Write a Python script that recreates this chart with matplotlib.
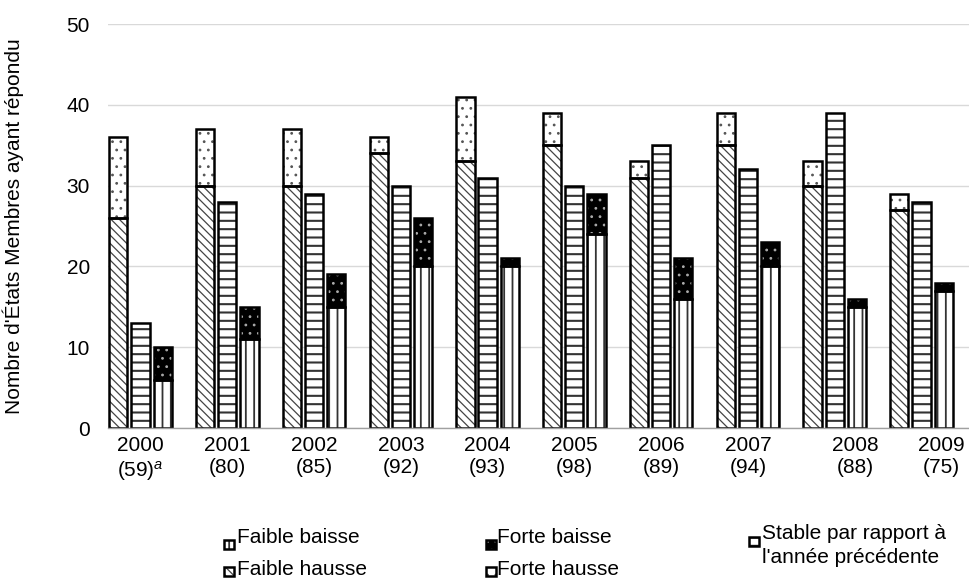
import matplotlib
matplotlib.use('Agg')
import matplotlib.pyplot as plt
import numpy as np
from matplotlib.patches import Rectangle

plt.rcParams['font.family'] = ['Liberation Sans', 'DejaVu Sans']
plt.rcParams['mathtext.fontset'] = 'custom'
plt.rcParams['mathtext.it'] = 'Liberation Sans:italic'
plt.rcParams['mathtext.rm'] = 'Liberation Sans'
plt.rcParams['hatch.linewidth'] = 1.3

# ---- data ----
years = ['2000', '2001', '2002', '2003', '2004', '2005', '2006', '2007', '2008', '2009']
respondents = ['(59)$^{a}$', '(80)', '(85)', '(92)', '(93)', '(98)', '(89)', '(94)', '(88)', '(75)']
faible_hausse = [26, 30, 30, 34, 33, 35, 31, 35, 30, 27]
forte_hausse = [10, 7, 7, 2, 8, 4, 2, 4, 3, 2]
stable = [13, 28, 29, 30, 31, 30, 35, 32, 39, 28]
faible_baisse = [6, 11, 15, 20, 20, 24, 16, 20, 15, 17]
forte_baisse = [4, 4, 4, 6, 1, 5, 5, 3, 1, 1]
y_ticks = [0, 10, 20, 30, 40, 50]

# label placement (style)
label_shift = [0, 0, 0, 0, 0, 0, 0, 0, 0.24, 0.23]

FS = 15
W, H = 970, 582
fig = plt.figure(figsize=(W / 100, H / 100), dpi=100)
ax = fig.add_axes([108 / W, 154 / H, 861 / W, 404 / H])

x = np.arange(len(years))
step = 0.256
bw = 0.21
lw = 1.8
hcol = '#333333'

# hatch styles: (face, hatch, hatch colour, hatch linewidth)
ST_FH = ('white', '\\\\\\\\', '#444444', 0.9)
ST_FOH = ('white', '..', '#555555', 0.8)
ST_ST = ('white', '--', '#333333', 1.5)
ST_FB = ('white', '||', '#333333', 1.3)
ST_FOB = ('black', '..', '#aaaaaa', 0.8)

def draw(xpos, vals, bottom, st):
    face, hatch, hc, hlw = st
    with plt.rc_context({'hatch.linewidth': hlw}):
        ax.bar(xpos, vals, bw, bottom=bottom, color=face, hatch=hatch,
               edgecolor=hc, linewidth=0, zorder=2)
    ax.bar(xpos, vals, bw, bottom=bottom, fill=False, edgecolor='black',
           linewidth=lw, zorder=3)

fh = np.array(faible_hausse)
fb = np.array(faible_baisse)
draw(x - step, fh, 0, ST_FH)
draw(x - step, forte_hausse, fh, ST_FOH)
draw(x, stable, 0, ST_ST)
draw(x + step, fb, 0, ST_FB)
draw(x + step, forte_baisse, fb, ST_FOB)

ax.set_xlim(-0.375, 9.548)
ax.set_ylim(0, 50)
ax.set_yticks(y_ticks)
ax.yaxis.grid(True, color='#d9d9d9', linewidth=1)
ax.set_axisbelow(True)
for s in ['left', 'right', 'top']:
    ax.spines[s].set_visible(False)
ax.spines['bottom'].set_color('#a0a0a0')
ax.spines['bottom'].set_linewidth(1)
ax.spines['bottom'].set_zorder(4)

ax.tick_params(axis='y', length=0, pad=13, labelsize=FS)
ax.tick_params(axis='x', length=0, pad=6, labelsize=FS)
ax.set_xticks(x + np.array(label_shift),
              [f'{y}\n{r}' for y, r in zip(years, respondents)])

fig.text(13 / W, 1 - 226 / H, "Nombre d'États Membres ayant répondu",
         rotation=90, ha='center', va='center', fontsize=FS)

# ---- legend (manual) ----
def handle(px, py, st):
    face, hatch, hc, hlw = st
    with plt.rc_context({'hatch.linewidth': hlw}):
        r = Rectangle((px / W, 1 - (py + 9) / H), 10 / W, 9 / H, transform=fig.transFigure,
                      facecolor=face, hatch=hatch, edgecolor=hc, linewidth=0)
    fig.add_artist(r)
    r2 = Rectangle((px / W, 1 - (py + 9) / H), 10 / W, 9 / H, transform=fig.transFigure,
                   fill=False, edgecolor='black', linewidth=1.8)
    fig.add_artist(r2)

def ltext(px, py, s):
    fig.text(px / W, 1 - py / H, s, ha='left', va='baseline', fontsize=FS)

handle(224, 540, ST_FB)
ltext(237, 543, 'Faible baisse')
handle(224, 567, ST_FH)
ltext(237, 575, 'Faible hausse')
handle(486, 540, ST_FOB)
ltext(497, 543, 'Forte baisse')
handle(486, 567, ST_FOH)
ltext(497, 575, 'Forte hausse')
handle(749, 537, ST_ST)
ltext(762, 539, 'Stable par rapport à')
ltext(762, 563, "l'année précédente")

fig.savefig('out.png', dpi=100)
